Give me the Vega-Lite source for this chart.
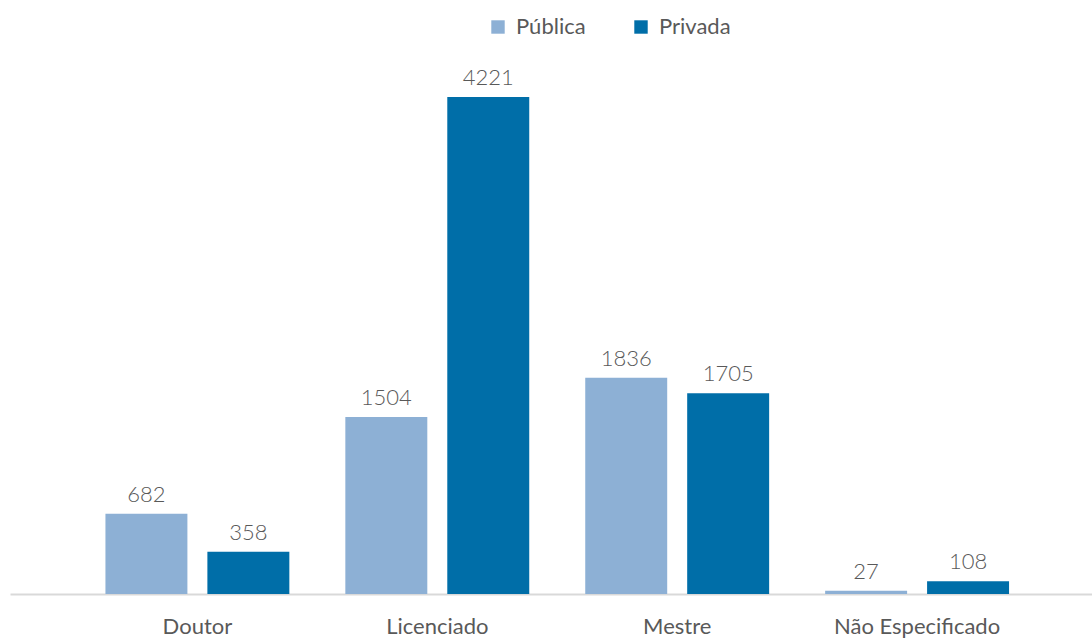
{
  "$schema": "https://vega.github.io/schema/vega-lite/v6.json",
  "width": 1082,
  "height": 534,
  "autosize": "none",
  "padding": {"left": 10, "right": 0, "top": 60, "bottom": 50},
  "background": "white",
  "config": {"view": {"stroke": null}, "font": "Lato"},
  "data": {
    "values": [
      {"grau": "Doutor", "tipo": "Pública", "valor": 682},
      {"grau": "Doutor", "tipo": "Privada", "valor": 358},
      {"grau": "Licenciado", "tipo": "Pública", "valor": 1504},
      {"grau": "Licenciado", "tipo": "Privada", "valor": 4221},
      {"grau": "Mestre", "tipo": "Pública", "valor": 1836},
      {"grau": "Mestre", "tipo": "Privada", "valor": 1705},
      {"grau": "Não Especificado", "tipo": "Pública", "valor": 27},
      {"grau": "Não Especificado", "tipo": "Privada", "valor": 108}
    ]
  },
  "encoding": {
    "x": {
      "field": "grau", "type": "nominal",
      "sort": ["Doutor", "Licenciado", "Mestre", "Não Especificado"],
      "scale": {"paddingInner": 0.2334, "paddingOuter": 0.3718, "align": 0.535},
      "axis": {
        "title": null, "labelAngle": 0, "ticks": false,
        "domainColor": "#D9D9D9", "domainWidth": 2,
        "labelColor": "#595959", "labelFontSize": 22, "labelFont": "Lato",
        "labelPadding": 22
      }
    },
    "xOffset": {
      "field": "tipo", "type": "nominal",
      "sort": ["Pública", "Privada"],
      "scale": {"paddingInner": 0.196, "paddingOuter": 0}
    },
    "y": {
      "field": "valor", "type": "quantitative",
      "scale": {"domain": [0, 4535], "nice": false},
      "axis": null
    }
  },
  "layer": [
    {
      "mark": {"type": "bar"},
      "encoding": {
        "color": {
          "field": "tipo", "type": "nominal",
          "sort": ["Pública", "Privada"],
          "scale": {"domain": ["Pública", "Privada"], "range": ["#8DB0D5", "#006EA8"]},
          "legend": {
            "title": null, "orient": "none", "direction": "horizontal",
            "legendX": 477, "legendY": -44,
            "symbolType": "square", "symbolSize": 180, "symbolStrokeWidth": 0,
            "labelFontSize": 22, "labelColor": "#595959", "labelFont": "Lato",
            "labelOffset": 7, "columnPadding": 44, "padding": 0
          }
        }
      }
    },
    {
      "mark": {"type": "text", "baseline": "alphabetic", "dy": -12, "fontSize": 22, "fontWeight": 300, "color": "#595959", "font": "Lato"},
      "encoding": {"text": {"field": "valor", "type": "quantitative"}}
    }
  ]
}
